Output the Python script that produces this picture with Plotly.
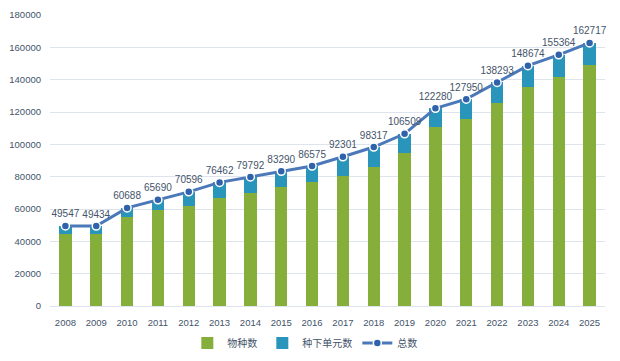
import plotly.graph_objects as go

years = ["2008","2009","2010","2011","2012","2013","2014","2015","2016","2017",
         "2018","2019","2020","2021","2022","2023","2024","2025"]
totals = [49547, 49434, 60688, 65690, 70596, 76462, 79792, 83290, 86575, 92301,
          98317, 106509, 122280, 127950, 138293, 148674, 155364, 162717]
species = [44400, 44400, 54900, 59400, 62100, 66700, 70200, 73500, 76800, 80500,
           86250, 94500, 110600, 115600, 125500, 135600, 141800, 148800]
infra = [t - s for t, s in zip(totals, species)]

txt = "#44546a"
num_font = "Liberation Sans"
fig = go.Figure()
fig.add_trace(go.Bar(x=years, y=species, name="物种数",
                     marker=dict(color="#86ae3a", line=dict(width=0))))
fig.add_trace(go.Bar(x=years, y=infra, name="种下单元数",
                     marker=dict(color="#2a95ba", line=dict(width=0))))
fig.add_trace(go.Scatter(x=years, y=totals, name="总数", mode="lines+markers+text",
                         text=[str(v) for v in totals], textposition="top center",
                         textfont=dict(size=10, color=txt, family=num_font),
                         cliponaxis=False,
                         line=dict(color="#4a78b8", width=3),
                         marker=dict(size=8, color="#2f62aa", line=dict(color="white", width=1.5))))

# page body has an 8px margin, so the figure is shifted by 8px
fig.update_layout(
    width=612, height=353, barmode="stack", bargap=0.6,
    margin=dict(l=42, r=15, t=7, b=55, autoexpand=False),
    paper_bgcolor="white", plot_bgcolor="white",
    font=dict(family=num_font, size=10, color=txt),
    legend=dict(orientation="h", x=0.485, xanchor="center", xref="container",
                y=0.051, yanchor="middle", yref="container",
                traceorder="normal", itemwidth=30,
                font=dict(size=10, color=txt, family="Noto Sans CJK SC")),
    showlegend=True,
)
fig.update_yaxes(range=[0, 180000], dtick=20000, tickformat="d", gridcolor="#dde4ee",
                 zeroline=False, showline=False, ticks="", automargin=False,
                 ticklabelstandoff=8, tickfont=dict(size=9.5, color=txt, family=num_font))
fig.update_xaxes(range=[-0.5, 17.5], showline=True, linecolor="#dde4ee", ticks="", automargin=False,
                 ticklabelstandoff=8, tickfont=dict(size=9.5, color=txt, family=num_font))
fig.write_html("out.html")
